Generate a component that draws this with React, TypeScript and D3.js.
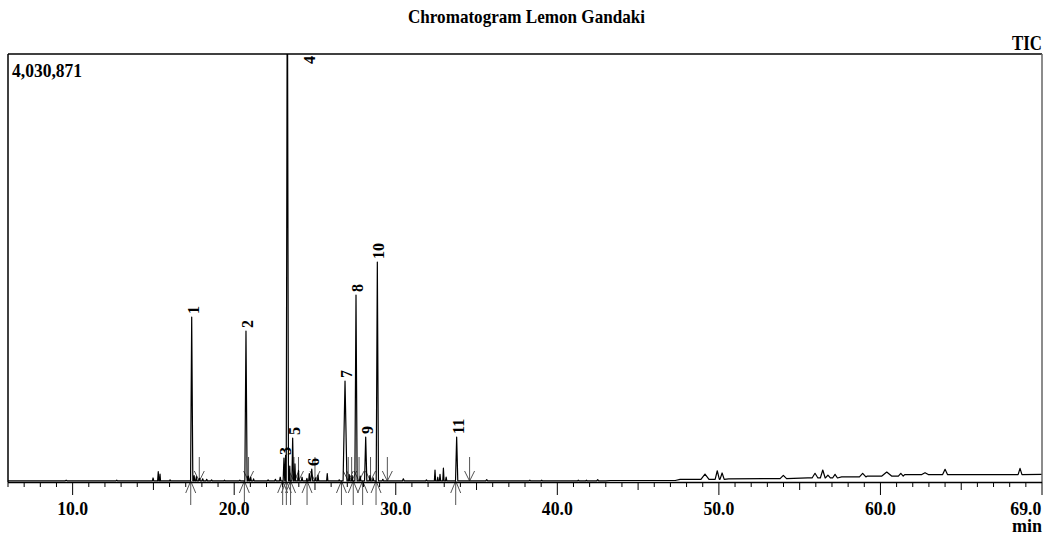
import * as d3 from 'd3';

const TITLE = 'Chromatogram Lemon Gandaki';
const MAX_COUNTS = 4030871;

// main numbered peaks: retention time (min), apex intensity, foot half-width (min)
const peakTime = [17.37, 20.73, 23.08, 23.29, 23.62, 24.8, 26.86, 27.54, 28.14, 28.86, 33.77];
const peakHeight = [1554000, 1422000, 226000, 5200000, 414000, 122000, 951000, 1761000, 424000, 2072000, 424000];
const peakWidth = [0.07, 0.07, 0.05, 0.07, 0.05, 0.06, 0.12, 0.07, 0.07, 0.07, 0.07];
const peakLabel = ['1', '2', '3', '4', '5', '6', '7', '8', '9', '10', '11'];

// small unlabelled peaks
const bumpTime = [
  9.6, 12.73, 14.98, 15.3, 15.41, 16.03, 17.52, 17.66, 17.85, 18.05, 18.3, 18.6, 19.4,
  20.35, 20.88, 21.02, 21.2, 22.1, 22.55, 22.85, 23.18, 23.44, 23.76, 23.98, 24.2, 24.5,
  24.65, 25.03, 25.19, 25.76, 26.5, 27.12, 27.3, 27.8, 28.4, 28.6, 29.2, 30.47, 31.9,
  32.43, 32.6, 32.74, 32.95, 33.12, 35.63, 38.3, 39.03, 41.3, 41.8, 42.5,
  49.14, 49.9, 50.2, 53.99, 55.95, 56.43, 56.75, 57.19, 58.9, 60.39, 61.26, 62.76, 64.0, 68.64,
];
const bumpHeight = [
  17000, 18000, 38000, 97000, 75000, 20000, 60000, 50000, 35000, 30000, 25000, 20000, 17000,
  18000, 55000, 45000, 30000, 20000, 25000, 45000, 250000, 150000, 170000, 110000, 45000, 35000,
  80000, 40000, 66000, 80000, 20000, 70000, 60000, 55000, 60000, 40000, 25000, 30000, 20000,
  113000, 45000, 73000, 132000, 47000, 22000, 18000, 17000, 17000, 17000, 22000,
  75000, 106000, 85000, 63000, 82000, 113000, 65000, 72000, 82000, 94000, 82000, 88000, 120000, 129000,
];
const bumpWidth = [
  0.08, 0.05, 0.04, 0.04, 0.03, 0.04, 0.04, 0.04, 0.05, 0.05, 0.05, 0.05, 0.05,
  0.05, 0.04, 0.04, 0.04, 0.05, 0.05, 0.04, 0.03, 0.03, 0.04, 0.04, 0.04, 0.04,
  0.04, 0.04, 0.04, 0.04, 0.04, 0.04, 0.04, 0.04, 0.04, 0.04, 0.05, 0.06, 0.05,
  0.04, 0.03, 0.04, 0.04, 0.04, 0.06, 0.06, 0.06, 0.06, 0.06, 0.06,
  0.25, 0.13, 0.13, 0.2, 0.18, 0.15, 0.15, 0.15, 0.2, 0.3, 0.15, 0.2, 0.15, 0.12,
];

// baseline drift
const baseTime = [6, 43.0, 43.3, 47.3, 47.6, 50.6, 53.0, 55.5, 57.6, 59.2, 61.5, 70];
const baseLevel = [10000, 10000, 14000, 14000, 25000, 30000, 32000, 38000, 48000, 56000, 70000, 72000];

// integration marks (peak start below the axis, peak end above it)
const startMarks = [17.31, 20.63, 23.0, 23.23, 23.49, 24.51, 26.64, 27.37, 27.95, 28.78, 33.71];
const endMarks = [17.84, 20.89, 23.7, 23.98, 25.0, 27.06, 27.27, 27.73, 28.44, 29.48, 34.57];

const labelTicks = [10, 20, 30, 40, 50, 60, 69];

const W = 1050;
const H = 545;
const LEFT = 8;
const RIGHT = 1042;
const TOP = 54;
const AXIS_Y = 482;
const FONT = '"Liberation Serif", "Times New Roman", serif';

export default function App() {
  const x = d3.scaleLinear().domain([6, 70]).range([LEFT, RIGHT]);
  const y = d3.scaleLinear().domain([0, MAX_COUNTS]).range([AXIS_Y, TOP]);

  const baseAt = (t: number) => {
    const i = Math.max(0, d3.bisectRight(baseTime, t) - 1);
    return baseLevel[i];
  };

  const pts: [number, number][] = baseTime.map((t, i) => [t, baseLevel[i]]);
  const addPeak = (t: number, h: number, w: number) => {
    pts.push([t - w, baseAt(t - w)], [t, h], [t + w, baseAt(t + w)]);
  };
  peakTime.forEach((t, i) => addPeak(t, peakHeight[i], peakWidth[i]));
  bumpTime.forEach((t, i) => addPeak(t, bumpHeight[i], bumpWidth[i]));
  pts.sort((a, b) => a[0] - b[0]);

  const line = d3.line<[number, number]>().x(d => x(d[0])).y(d => y(d[1]));

  const ticks = d3.range(6, 71);
  const tickLen = (t: number) => (t % 10 === 0 ? 13 : t % 5 === 0 ? 8 : 5);

  return (
    <svg width={W} height={H} style={{ position: 'absolute', left: 0, top: 0, background: '#fff' }}
      fontFamily={FONT} fontWeight="bold">
      <defs>
        <clipPath id="plotClip">
          <rect x={LEFT} y={TOP} width={RIGHT - LEFT} height={AXIS_Y - TOP + 1} />
        </clipPath>
      </defs>

      <text x={526.5} y={23} fontSize={19} textAnchor="middle" textLength={237} lengthAdjust="spacingAndGlyphs">{TITLE}</text>
      <text x={RIGHT} y={50} fontSize={20} textAnchor="end" textLength={30} lengthAdjust="spacingAndGlyphs">TIC</text>
      <text x={12} y={77} fontSize={19} textLength={70} lengthAdjust="spacingAndGlyphs">{d3.format(',')(MAX_COUNTS)}</text>

      {/* integration markers */}
      <g stroke="#555" strokeWidth={1} fill="none">
        {startMarks.map((t, i) => {
          const px = x(t);
          return (
            <g key={'s' + i}>
              <line x1={px} x2={px} y1={AXIS_Y - 1} y2={AXIS_Y + 23} />
              <polyline points={`${px - 5},${AXIS_Y + 11} ${px},${AXIS_Y - 1} ${px + 5},${AXIS_Y + 11}`} />
            </g>
          );
        })}
        {endMarks.map((t, i) => {
          const px = x(t);
          return (
            <g key={'e' + i}>
              <line x1={px} x2={px} y1={AXIS_Y - 25} y2={AXIS_Y - 1} />
              <polyline points={`${px - 5},${AXIS_Y - 11} ${px},${AXIS_Y - 1} ${px + 5},${AXIS_Y - 11}`} />
            </g>
          );
        })}
      </g>

      <path d={line(pts) || ''} fill="none" stroke="#000" strokeWidth={1.2} strokeLinejoin="round"
        clipPath="url(#plotClip)" />

      {/* frame */}
      <line x1={LEFT} x2={RIGHT} y1={TOP} y2={TOP} stroke="#000" strokeWidth={1.5} />
      <line x1={LEFT} x2={LEFT} y1={TOP} y2={AXIS_Y} stroke="#000" strokeWidth={1.5} />
      <line x1={RIGHT} x2={RIGHT} y1={TOP} y2={AXIS_Y} stroke="#666" strokeWidth={1.5} />
      <line x1={LEFT} x2={RIGHT} y1={AXIS_Y + 0.5} y2={AXIS_Y + 0.5} stroke="#000" strokeWidth={1.5} />

      {/* x axis */}
      <g stroke="#000" strokeWidth={1}>
        {ticks.map(t => (
          <line key={t} x1={x(t)} x2={x(t)} y1={AXIS_Y} y2={AXIS_Y + tickLen(t)} />
        ))}
      </g>
      {labelTicks.map(t => (
        <text key={t} x={x(t)} y={515} fontSize={19} textAnchor="middle" textLength={31} lengthAdjust="spacingAndGlyphs">
          {t.toFixed(1)}
        </text>
      ))}
      <text x={RIGHT} y={532} fontSize={18} textAnchor="end" textLength={30} lengthAdjust="spacingAndGlyphs">min</text>

      {/* peak numbers */}
      <g clipPath="url(#plotClip)">
        {peakTime.map((t, i) => {
          const clipped = peakHeight[i] > MAX_COUNTS;
          const px = clipped ? x(t) + 22 : x(t) + 1.5;
          const py = clipped ? TOP + 10 : y(peakHeight[i]) - 3;
          return (
            <text key={i} transform={`translate(${px},${py}) rotate(-90)`} fontSize={16}
              dominantBaseline="central">
              {peakLabel[i]}
            </text>
          );
        })}
      </g>
    </svg>
  );
}
